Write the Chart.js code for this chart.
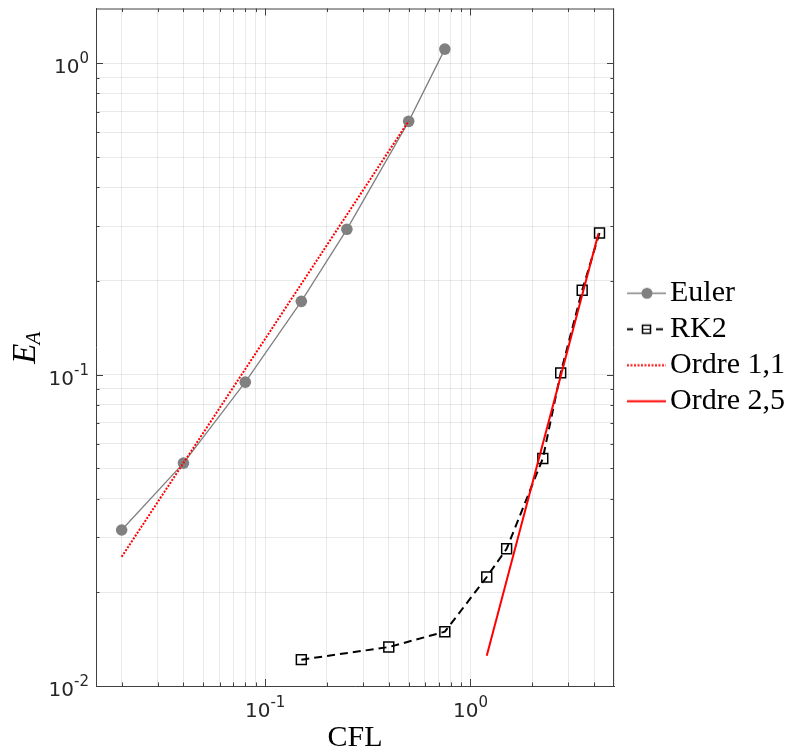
<!DOCTYPE html>
<html>
<head>
<meta charset="utf-8">
<script src="https://cdn.jsdelivr.net/npm/chart.js@4.4.0/dist/chart.umd.min.js"></script>
<style>
  html, body { margin: 0; padding: 0; background: #fff; }
  canvas { display: block; }
</style>
</head>
<body>
<canvas id="chart" width="791" height="753"></canvas>
<script>
// values
const eulerCfl = [0.02, 0.04, 0.08, 0.15, 0.25, 0.5, 0.75];
const eulerErr = [0.0317, 0.052, 0.0946, 0.172, 0.293, 0.651, 1.111];
const rk2Cfl = [0.15, 0.4, 0.75, 1.2, 1.5, 2.25, 2.75, 3.5, 4.25];
const rk2Err = [0.01215, 0.01334, 0.01494, 0.02239, 0.02759, 0.0538, 0.1013, 0.1867, 0.2852];
const order1Cfl = [0.02, 0.5];
const order1Err = [0.026, 0.653];
const order2Cfl = [1.2, 4.2];
const order2Err = [0.0125, 0.284];

const seriesNames = ['Euler', 'RK2', 'Ordre 1,1', 'Ordre 2,5'];

const xRange = [0.015, 5];
const yRange = [0.01, 1.5];
// tick labels are 10^exponent
const xMajorTicks = [0.1, 1];
const xTickExponents = ['-1', '0'];
const yMajorTicks = [0.01, 0.1, 1];
const yTickExponents = ['-2', '-1', '0'];

const serif = 'Liberation Serif';
const sans = 'DejaVu Sans';
const axisColor = '#404040';
const tickTextColor = '#262626';

function points(xs, ys) {
  return xs.map((x, i) => ({ x, y: ys[i] }));
}

// 1..9 x 10^n tick positions inside [min, max]
function logTicks(min, max) {
  const out = [];
  for (let e = Math.floor(Math.log10(min)); e <= Math.ceil(Math.log10(max)); e++) {
    for (let m = 1; m <= 9; m++) {
      const v = m * Math.pow(10, e);
      if (v >= min * 0.999 && v <= max * 1.001) out.push(v);
    }
  }
  return out;
}

function isMajor(v) {
  const l = Math.log10(v);
  return Math.abs(l - Math.round(l)) < 1e-6;
}

// legend sample: a short line with the marker in the middle
function legendSample(draw) {
  const c = document.createElement('canvas');
  c.width = 57;
  c.height = 21;
  draw(c.getContext('2d'));
  return c;
}

const legendImages = [
  legendSample(g => {
    g.strokeStyle = '#808080';
    g.lineWidth = 1.5;
    g.beginPath(); g.moveTo(18, 10.5); g.lineTo(57, 10.5); g.stroke();
    g.fillStyle = '#808080';
    g.beginPath(); g.arc(38, 10.5, 5.5, 0, Math.PI * 2); g.fill();
  }),
  legendSample(g => {
    g.strokeStyle = '#000';
    g.lineWidth = 2;
    g.beginPath();
    g.moveTo(18, 10.5); g.lineTo(24, 10.5);
    g.moveTo(47, 10.5); g.lineTo(54, 10.5);
    g.stroke();
    g.lineWidth = 1.5;
    g.strokeRect(33.5, 6.5, 8, 8);
    g.lineWidth = 1;
    g.beginPath(); g.moveTo(33.5, 10.5); g.lineTo(41.5, 10.5); g.stroke();
  }),
  legendSample(g => {
    g.strokeStyle = '#ff0000';
    g.lineWidth = 2;
    g.setLineDash([2, 1.5]);
    g.beginPath(); g.moveTo(18, 10.5); g.lineTo(57, 10.5); g.stroke();
  }),
  legendSample(g => {
    g.strokeStyle = '#ff0000';
    g.lineWidth = 2;
    g.beginPath(); g.moveTo(18, 10.5); g.lineTo(57, 10.5); g.stroke();
  })
];

// "10" with a raised exponent; align is 'right' or 'center'
function drawPower(ctx, exp, x, baseline, align) {
  ctx.font = '20px "' + sans + '"';
  const wBase = ctx.measureText('10').width;
  ctx.font = '15px "' + sans + '"';
  const wExp = ctx.measureText(exp).width;
  const left = align === 'right' ? x - wBase - wExp : x - (wBase + wExp) / 2;
  ctx.font = '20px "' + sans + '"';
  ctx.fillText('10', left, baseline);
  ctx.font = '15px "' + sans + '"';
  ctx.fillText(exp, left + wBase, baseline - 10);
}

// box, inner tick marks, tick labels and the y title
const framePlugin = {
  id: 'frame',
  afterDraw(chart) {
    const { ctx, chartArea: a, scales } = chart;
    ctx.save();
    ctx.strokeStyle = axisColor;
    ctx.lineWidth = 1;
    ctx.beginPath();
    ctx.moveTo(a.left, a.top + 0.5); ctx.lineTo(a.right, a.top + 0.5);
    ctx.moveTo(a.right - 0.5, a.top); ctx.lineTo(a.right - 0.5, a.bottom);
    scales.x.ticks.forEach(t => {
      const px = Math.round(scales.x.getPixelForValue(t.value)) + 0.5;
      if (px <= a.left + 1 || px >= a.right - 1) return;
      const len = isMajor(t.value) ? 7 : 3.5;
      ctx.moveTo(px, a.bottom); ctx.lineTo(px, a.bottom - len);
      ctx.moveTo(px, a.top); ctx.lineTo(px, a.top + len);
    });
    scales.y.ticks.forEach(t => {
      const py = Math.round(scales.y.getPixelForValue(t.value)) + 0.5;
      if (py <= a.top + 1 || py >= a.bottom - 1) return;
      const len = isMajor(t.value) ? 7 : 3.5;
      ctx.moveTo(a.left, py); ctx.lineTo(a.left + len, py);
      ctx.moveTo(a.right, py); ctx.lineTo(a.right - len, py);
    });
    ctx.stroke();

    ctx.fillStyle = tickTextColor;
    ctx.textBaseline = 'alphabetic';
    ctx.textAlign = 'left';
    xMajorTicks.forEach((v, i) => {
      drawPower(ctx, xTickExponents[i], scales.x.getPixelForValue(v), a.bottom + 31, 'center');
    });
    yMajorTicks.forEach((v, i) => {
      drawPower(ctx, yTickExponents[i], a.left - 7, scales.y.getPixelForValue(v) + 10, 'right');
    });

    // E_A, rotated
    const cy = (a.top + a.bottom) / 2;
    ctx.translate(35, cy);
    ctx.rotate(-Math.PI / 2);
    ctx.fillStyle = '#000';
    ctx.font = 'italic 33px "' + serif + '"';
    const wE = ctx.measureText('E').width;
    ctx.font = 'italic 21px "' + serif + '"';
    const wA = ctx.measureText('A').width;
    const start = -(wE + wA) / 2;
    ctx.font = 'italic 33px "' + serif + '"';
    ctx.fillText('E', start, 0);
    ctx.font = 'italic 21px "' + serif + '"';
    ctx.fillText('A', start + wE - 1, 5);
    ctx.restore();
  }
};

Chart.defaults.font.family = sans;
Chart.defaults.color = tickTextColor;

new Chart(document.getElementById('chart'), {
  type: 'scatter',
  data: {
    datasets: [
      {
        label: seriesNames[0],
        data: points(eulerCfl, eulerErr),
        showLine: true,
        borderColor: '#808080',
        borderWidth: 1.3,
        pointRadius: 5.8,
        pointBackgroundColor: '#808080',
        pointBorderWidth: 0,
        order: 2
      },
      {
        label: seriesNames[1],
        data: points(rk2Cfl, rk2Err),
        showLine: true,
        borderColor: '#000',
        borderWidth: 2,
        borderDash: [8, 5],
        pointStyle: 'rect',
        pointRadius: 7,
        pointBorderColor: '#000',
        pointBackgroundColor: 'rgba(0,0,0,0)',
        pointBorderWidth: 1.5,
        order: 2
      },
      {
        label: seriesNames[2],
        data: points(order1Cfl, order1Err),
        showLine: true,
        borderColor: '#ff0000',
        borderWidth: 2,
        borderDash: [2, 1.5],
        pointRadius: 0,
        order: 1
      },
      {
        label: seriesNames[3],
        data: points(order2Cfl, order2Err),
        showLine: true,
        borderColor: '#ff0000',
        borderWidth: 2,
        pointRadius: 0,
        order: 1
      }
    ]
  },
  options: {
    responsive: false,
    animation: false,
    layout: { padding: { top: 8, left: 0, right: 0, bottom: 0 } },
    plugins: {
      tooltip: { enabled: false },
      legend: {
        position: 'right',
        align: 'center',
        fullSize: false,
        maxWidth: 177,
        labels: {
          usePointStyle: true,
          pointStyleWidth: 35,
          padding: 6,
          color: '#000',
          font: { family: serif, size: 30 },
          generateLabels: () => seriesNames.map((name, i) => ({
            text: name,
            pointStyle: legendImages[i],
            fillStyle: 'rgba(0,0,0,0)',
            strokeStyle: 'rgba(0,0,0,0)',
            lineWidth: 0,
            fontColor: '#000',
            hidden: false,
            datasetIndex: i
          }))
        }
      }
    },
    scales: {
      x: {
        type: 'logarithmic',
        min: xRange[0],
        max: xRange[1],
        afterBuildTicks: scale => {
          scale.ticks = logTicks(xRange[0], xRange[1]).map(v => ({ value: v, major: isMajor(v) }));
        },
        afterFit: scale => {
          scale.height = 67;
          scale.paddingLeft = 0;
          scale.paddingRight = 0;
        },
        ticks: { display: false, autoSkip: false },
        grid: { color: 'rgba(0,0,0,0.085)', drawTicks: false },
        border: { color: axisColor, width: 1 },
        title: {
          display: true,
          text: 'CFL',
          color: '#000',
          font: { family: serif, size: 30, lineHeight: 1 },
          padding: 0
        }
      },
      y: {
        type: 'logarithmic',
        min: yRange[0],
        max: yRange[1],
        afterBuildTicks: scale => {
          scale.ticks = logTicks(yRange[0], yRange[1]).map(v => ({ value: v, major: isMajor(v) }));
        },
        afterFit: scale => {
          scale.width = 96;
          scale.paddingTop = 0;
          scale.paddingBottom = 0;
        },
        ticks: { display: false, autoSkip: false },
        grid: { color: 'rgba(0,0,0,0.085)', drawTicks: false },
        border: { color: axisColor, width: 1 }
      }
    }
  },
  plugins: [framePlugin]
});
</script>
</body>
</html>
